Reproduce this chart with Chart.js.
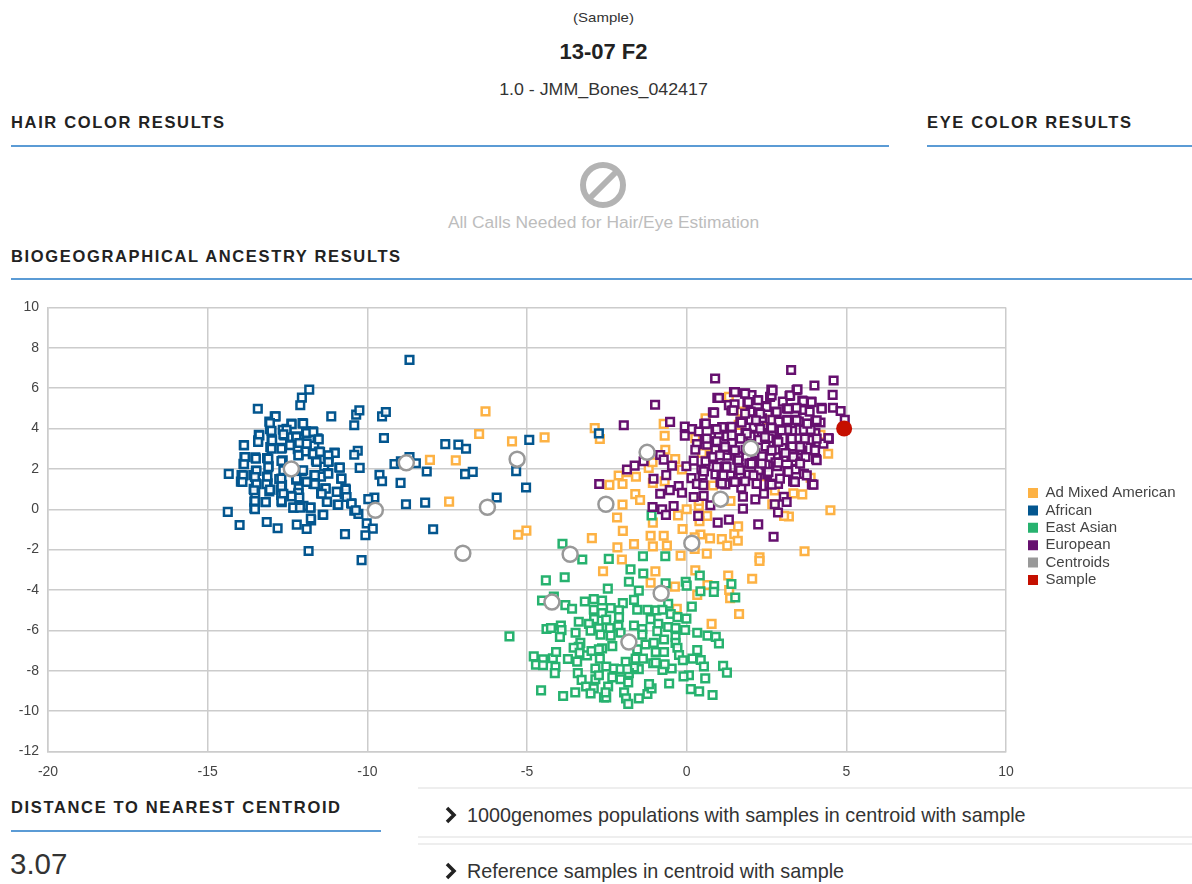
<!DOCTYPE html>
<html><head><meta charset="utf-8">
<script src="https://cdn.jsdelivr.net/npm/chart.js@4"></script>
<style>
html,body{margin:0;padding:0;background:#fff;width:1192px;height:884px;overflow:hidden;font-family:"Liberation Sans",Arial,sans-serif;color:#222}
.t{position:absolute;white-space:nowrap}
.c{left:0;width:1207px;text-align:center}
.h{font-weight:bold;font-size:16.5px;letter-spacing:1.65px;color:#222;line-height:18px}
.r{position:absolute;height:1.5px;background:#5b9bd5}
.p{position:absolute;left:418px;right:0;height:2px;background:#eeeeee}
.link{font-size:19.8px;color:#333;line-height:22px}
#wrap{position:absolute;left:0;top:290px;width:1192px;height:493px}
</style></head><body>
<div class="t c" style="top:9px;font-size:15px;color:#333;transform:scaleY(.9)">(Sample)</div>
<div class="t c" style="top:39px;font-size:22px;font-weight:bold;color:#222">13-07 F2</div>
<div class="t c" style="top:79px;font-size:17.8px;color:#333;transform:scaleY(.92)">1.0 - JMM_Bones_042417</div>
<div class="t h" style="left:11px;top:113px">HAIR COLOR RESULTS</div><div class="r" style="left:11px;top:145px;width:878px"></div>
<div class="t h" style="left:927px;top:113px">EYE COLOR RESULTS</div><div class="r" style="left:927px;top:145px;right:0"></div>
<svg style="position:absolute;left:578px;top:160px" width="50" height="50"><circle cx="25" cy="25" r="20" fill="none" stroke="#b3b3b3" stroke-width="6"/><line x1="12" y1="38" x2="38" y2="12" stroke="#b3b3b3" stroke-width="6"/></svg>
<div class="t c" style="top:212px;font-size:17.4px;color:#bdbdbd">All Calls Needed for Hair/Eye Estimation</div>
<div class="t h" style="left:11px;top:247px">BIOGEOGRAPHICAL ANCESTRY RESULTS</div><div class="r" style="left:11px;top:278px;right:0"></div>
<div id="wrap"><canvas id="chart" width="1192" height="493"></canvas></div>
<div class="t h" style="left:11px;top:798px">DISTANCE TO NEAREST CENTROID</div><div class="r" style="left:11px;top:830px;width:370px"></div>
<div class="t" style="left:10px;top:847px;font-size:29.5px;color:#333">3.07</div>
<div class="p" style="top:787px"></div><div class="p" style="top:836px"></div><div class="p" style="top:843px"></div>
<svg style="position:absolute;left:444px;top:806px" width="16" height="18"><polyline points="3,2 10,9 3,16" fill="none" stroke="#222" stroke-width="3.5"/></svg>
<div class="t link" style="left:467px;top:804px">1000genomes populations with samples in centroid with sample</div>
<svg style="position:absolute;left:444px;top:862px" width="16" height="18"><polyline points="3,2 10,9 3,16" fill="none" stroke="#222" stroke-width="3.5"/></svg>
<div class="t link" style="left:467px;top:860px">Reference samples in centroid with sample</div>
<script>
const seriesNames=["Ad Mixed American","African","East Asian","European","Centroids","Sample"];
const xTicks=[-20,-15,-10,-5,0,5,10];
const yTicks=[-12,-10,-8,-6,-4,-2,0,2,4,6,8,10];
const adMixedAmerican=[[-6.30,4.85],[-6.50,3.73],[-5.47,3.36],[-4.45,3.56],[-8.04,2.45],[-7.23,2.42],[-7.44,.38],[-5.28,-1.26],[-5.02,-1.06],
[-2.88,4.02],[-2.72,3.48],[-.72,4.23],[-.69,3.64],[-.67,2.95],[-.36,2.49],[-1.19,2.05],[-1.07,2.33],[-2.13,1.67],[-1.59,1.61],[-1.87,1.84],[-2.42,1.21],[-2.01,1.25],[-1.06,1.31],[-.69,1.39],[-1.61,.75],[-1.46,.46],[-2.01,.23],[-2.18,-.41],[-1.06,-.66],[-2.00,-1.07],[-2.97,-1.43],[-2.17,-1.89],[-1.65,-1.72],[-1.13,-1.31],[-1.06,-1.84],[-.72,-1.31],[-.62,-1.80],[-2.03,-2.49],[-2.62,-3.07],[-.98,-3.08],[-.19,-2.30],[-.13,-.98],[-.27,-.30],[0,0],[.38,.16],[.64,-.33],[.40,-.59],[.43,-1.25],[.25,-1.39],[.73,-1.44],[1.10,-1.48],[1.49,-1.23],[1.61,-.85],[1.60,-1.56],[1.27,-1.80],[.63,-2.20],[.25,-1.97],[.27,-3.03],[1.30,-3.28],[2.05,-3.44],[2.28,-2.38],[2.28,-2.56],[3.69,-2.08],[4.50,-.05],[3.20,-.36],[3.05,-.33],[3.34,.79],[3.62,.74],[2.76,.93],[2.68,.25],[1.37,.41],[.82,1.18],[.38,.41],[4.43,2.75],[3.88,1.56],[2.41,1.64],[1.71,4.84],[1.32,5.57],[.59,4.51],[.27,3.52],[2.57,4.43],[4.19,3.69],[1.63,4.18],[-.15,1.97],[.48,2.79],[.79,3.11],
[-1.13,-3.64],[-.37,-3.83],[.65,-3.75],[1.33,-4.00],[.33,-4.24],[1.36,-4.41],[1.64,-5.19],[.78,-5.68],[-.31,-4.93]];
const african=[[-8.68,7.40],[-11.82,5.93],[-12.05,5.53],[-12.10,5.15],[-13.43,4.98],[-12.90,4.60],[-13.07,4.34],[-12.38,4.25],[-12.03,4.27],[-11.13,4.60],[-10.35,4.69],[-10.25,4.90],[-9.54,4.60],[-9.42,4.82],[-10.41,4.16],[-13.05,3.97],[-12.53,3.99],[-12.65,3.94],[-11.92,3.86],[-11.71,3.86],[-13.40,3.69],[-12.60,3.66],[-12.23,3.61],[-11.56,3.51],[-13.42,3.41],[-13.00,3.48],[-12.18,3.31],[-9.48,3.53],[-13.87,3.18],[-13.04,3.08],[-12.67,3.05],[-12.42,3.20],[-11.92,3.25],[-11.66,3.15],[-12.18,2.98],[-10.30,2.90],[-10.41,2.70],[-11.03,2.81],[-13.85,2.58],[-13.51,2.57],[-13.14,2.53],[-12.15,2.70],[-11.92,2.86],[-11.71,2.73],[-11.52,2.86],[-11.24,2.65],[-13.88,2.25],[-13.09,2.15],[-12.65,2.42],[-11.61,2.42],[-11.21,2.37],[-13.49,1.92],[-11.35,2.12],[-10.88,2.07],[-10.24,2.05],[-14.34,1.75],[-13.94,1.69],[-13.57,1.69],[-13.14,1.62],[-12.76,1.49],[-12.23,1.46],[-12.05,1.90],[-11.66,1.69],[-11.24,1.79],[-11.45,1.62],[-10.82,1.52],[-9.62,1.71],[-9.54,1.39],[-8.96,1.31],[-8.14,1.87],[-13.96,1.37],[-13.49,1.29],[-13.12,1.29],[-12.67,1.21],[-11.94,1.37],[-11.69,1.26],[-11.32,1.04],[-12.15,1.04],[-13.56,1.01],[-13.07,.88],[-12.72,.96],[-13.51,.76],[-10.95,.86],[-10.69,1.03],[-10.71,.76],[-11.45,.79],[-12.16,.76],[-12.36,.66],[-12.70,.71],[-13.54,.38],[-13.19,.35],[-12.68,.35],[-11.27,.38],[-10.93,.22],[-10.51,.30],[-9.78,.58],[-9.97,.50],[-13.54,.05],[-12.31,.08],[-12.13,.13],[-12.00,.17],[-11.78,.08],[-10.41,-.07],[-10.28,-.23],[-11.40,-.28],[-14.37,-.13],[-14.00,-.78],[-13.15,-.63],[-12.81,-.94],[-12.21,-.76],[-11.76,-.55],[-11.90,-.98],[-10.02,-.70],[-9.83,-.96],[-10.06,-1.29],[-10.70,-1.23],[-11.84,-2.07],[-10.18,-2.52],[-8.79,.25],[-8.19,.33],[-7.94,-.99],[-9.15,2.24],[-8.95,2.37],[-8.68,2.58],[-8.48,2.28],[-7.56,3.23],[-7.15,3.20],[-6.91,3.00],[-6.94,1.74],[-6.70,1.85],[-5.95,.58],[-4.93,3.44],[-5.34,1.89],[-5.03,1.08],[-2.75,3.76],
[-12.87,4.60],[-13.05,4.27],[-12.37,4.21],[-12.01,4.24],[-12.53,3.94],[-13.38,3.66],[-13.00,3.88],[-11.90,3.78],[-11.69,3.83],[-12.63,3.71],[-12.22,3.58],[-13.42,3.33],[-12.98,3.41],[-11.52,3.46],[-12.13,3.28],[-12.42,3.17],[-11.90,3.25],[-13.86,3.17],[-13.00,3.00],[-12.69,3.00],[-12.16,2.67],[-11.69,2.75],[-11.48,2.84],[-11.02,2.79],[-11.22,2.67],[-13.83,2.59],[-13.49,2.51],[-13.10,2.51],[-11.22,2.34],[-13.86,2.23],[-13.10,2.09],[-12.69,2.39],[-11.59,2.34],[-13.47,1.90],[-12.63,1.93],[-12.01,1.93],[-10.86,2.06],[-11.22,1.76],[-13.52,1.60],[-13.13,1.60],[-12.69,1.52],[-11.64,1.68],[-10.81,1.52],[-13.89,1.68],[-13.91,1.35],[-13.47,1.24],[-13.16,1.24],[-12.22,1.52],[-11.90,1.35],[-11.64,1.24],[-12.69,1.14],[-11.30,1.02],[-13.55,.94],[-13.05,.97],[-12.63,.77],[-12.16,.81],[-12.37,.64],[-11.43,.77],[-10.96,.86],[-10.67,.97],[-13.52,.41],[-13.18,.36],[-12.69,.41],[-12.13,.58],[-11.26,.36],[-10.65,.61],[-13.52,.00],[-12.32,.08],[-12.11,.08],[-11.78,.08],[-10.91,.23],[-10.49,.28],[-10.36,-.05],[-11.38,-.27],[-11.77,-.46]];
const eastAsian=[[-3.89,-1.71],[-3.27,-2.49],[-2.44,-2.46],[-1.37,-2.33],[-.67,-2.33],[-1.76,-2.98],[-1.36,-3.18],[-4.41,-3.52],[-3.82,-3.37],[-1.81,-3.59],[-2.47,-3.93],[-1.50,-4.03],[-.66,-3.67],[-.03,-3.59],[0,-3.78],[.41,-3.28],[.43,-4.06],[.86,-3.80],[.85,-4.09],[1.40,-3.70],[1.52,-4.37],[-4.53,-4.52],[-4.16,-4.32],[-3.80,-4.75],[-3.59,-4.93],[-3.19,-4.57],[-2.91,-4.45],[-2.65,-4.52],[-2.00,-4.65],[-1.65,-4.49],[.16,-4.82],[-.58,-4.68],[-5.55,-6.30],[-4.39,-5.93],[-4.25,-5.88],[-3.94,-5.76],[-3.92,-5.99],[-3.97,-6.32],[-3.48,-6.12],[-3.38,-5.57],[-2.91,-4.98],[-2.65,-5.14],[-2.38,-4.90],[-2.12,-5.01],[-1.55,-4.98],[-1.23,-4.98],[-.95,-5.01],[-.76,-4.98],[-.50,-5.19],[-.29,-5.34],[-.01,-5.42],[-2.90,-5.44],[-2.52,-5.47],[-2.12,-5.34],[-1.13,-5.44],[-.89,-5.67],[-3.06,-5.68],[-2.75,-5.90],[-2.41,-5.88],[-2.14,-5.80],[-1.65,-5.76],[-1.39,-5.93],[-.58,-5.83],[-.35,-5.88],[-.05,-5.98],[.33,-6.12],[.65,-6.26],[.91,-6.32],[1.01,-6.65],[-3.01,-6.01],[-2.70,-6.21],[-2.38,-6.26],[-2.07,-6.12],[-1.39,-6.21],[-.92,-6.04],[-.71,-6.45],[-.35,-6.32],[-.35,-6.62],[-3.33,-6.62],[-3.38,-6.81],[-3.54,-6.86],[-2.65,-6.89],[-2.33,-6.78],[-1.29,-6.70],[-1.03,-6.62],[-.29,-6.86],[.33,-6.98],[-4.79,-7.29],[-4.50,-7.43],[-4.19,-7.38],[-4.09,-7.07],[-3.72,-7.42],[-3.35,-7.11],[-3.12,-7.24],[-2.98,-7.02],[-2.72,-7.40],[-4.72,-7.70],[-4.50,-7.73],[-4.11,-7.81],[-3.43,-7.55],[-4.13,-8.12],[-3.41,-8.12],[-3.29,-8.45],[-2.86,-7.89],[-2.52,-7.79],[-2.28,-7.89],[-1.91,-7.56],[-1.60,-7.40],[-1.37,-7.40],[-.97,-7.07],[-.71,-7.07],[-.24,-7.22],[-.12,-7.48],[.18,-7.40],[.44,-7.47],[.54,-7.79],[1.14,-7.76],[1.26,-8.09],[.58,-8.38],[.07,-8.22],[-.10,-8.28],[-.55,-8.63],[-.76,-7.96],[-.47,-7.89],[-.69,-7.68],[-1.05,-7.63],[-1.50,-7.92],[-1.65,-7.84],[-2.07,-7.92],[-1.81,-8.12],[-2.33,-8.33],[-2.07,-8.42],[-1.83,-8.58],[-2.86,-8.42],[-2.75,-8.22],[-3.15,-8.78],[-2.91,-8.87],[-2.46,-8.78],[-4.56,-8.97],[-3.87,-9.25],[-3.49,-9.07],[-3.01,-9.12],[-2.59,-9.32],[-2.52,-9.32],[-1.96,-9.07],[-1.90,-9.37],[-1.83,-9.64],[-1.50,-9.37],[-1.23,-9.15],[-1.10,-8.87],[.13,-8.91],[.39,-9.02],[.81,-9.20],[-1.18,-8.66],[-2.54,-9.07],[-2.75,-6.94],[-1.86,-7.92],[-.97,-7.60],[-1.55,-6.94],[-1.10,-.30]];
const european=[[3.27,6.90],[.89,6.48],[4.60,6.38],[4.00,6.13],[4.57,5.67],[3.44,5.90],[2.65,5.93],[1.48,5.80],[1.82,5.74],[2.03,5.66],[2.61,5.57],[.96,5.52],[3.22,5.61],[-.99,5.18],[1.32,5.16],[1.50,5.20],[1.40,4.89],[1.90,5.30],[2.22,5.41],[2.47,5.11],[3.01,5.33],[3.62,5.38],[3.90,5.33],[.82,4.80],[2.00,4.84],[2.24,4.80],[2.78,4.84],[3.13,5.00],[3.39,5.00],[3.64,4.92],[4.22,5.03],[4.58,5.03],[4.82,4.87],[3.85,4.84],[4.95,4.43],[-1.97,4.16],[-.52,4.33],[.55,4.23],[1.68,4.34],[-.06,4.10],[.17,3.97],[.90,3.97],[1.37,4.07],[2.10,4.07],[2.63,4.07],[3.15,4.43],[3.39,4.43],[3.72,4.23],[4.19,4.30],[4.03,4.34],[-.06,3.64],[.38,3.85],[.56,3.48],[.92,3.36],[1.26,3.61],[1.66,3.52],[1.11,4.07],[2.36,3.77],[2.90,3.93],[3.30,3.89],[3.70,3.52],[4.45,3.49],[.32,3.23],[.64,3.20],[1.11,3.11],[1.42,3.28],[2.26,3.44],[2.83,3.44],[3.25,3.48],[3.67,3.93],[4.03,3.77],[.27,2.95],[.77,2.62],[1.00,2.70],[1.26,2.66],[1.58,2.46],[2.05,2.30],[2.62,2.92],[2.99,3.03],[3.30,3.11],[3.62,2.92],[4.01,2.95],[4.28,3.25],[-.83,2.69],[-1.63,2.16],[-1.87,1.97],[-1.35,2.38],[-.72,2.46],[-.46,2.16],[-.64,1.69],[-.01,2.13],[.22,2.41],[.46,1.97],[.82,2.13],[1.21,2.13],[1.63,2.05],[1.96,2.26],[2.62,2.54],[3.04,2.59],[3.32,2.62],[3.72,2.59],[4.05,2.49],[-1.04,1.51],[-2.74,1.25],[.15,1.54],[.50,1.67],[.90,1.72],[1.09,1.74],[1.37,1.67],[2.26,1.93],[2.47,2.21],[2.78,2.33],[3.15,1.89],[3.41,1.97],[3.67,1.75],[.32,1.26],[1.06,1.34],[1.47,1.39],[1.79,1.43],[2.20,1.56],[2.20,1.26],[2.59,1.26],[2.86,1.26],[3.33,1.38],[3.92,1.23],[-.83,.77],[-.53,.95],[-.25,1.15],[-.15,.82],[.22,.61],[.53,.66],[1.71,1.07],[1.76,.62],[2.15,.49],[2.42,.77],[3.04,.62],[3.13,.36],[2.76,.25],[-1.07,.11],[-.77,0],[-.41,.16],[-.65,-.28],[.74,.20],[.36,-.33],[1.76,.03],[2.86,-.16],[.97,-.66],[1.32,-.51],[2.24,-.75],[2.72,-1.36],[1.63,2.62],[1.84,2.95],[2.15,2.79],[2.36,2.62],[2.47,3.11],[2.78,2.95],[.59,2.38],[1.42,2.95],[1.84,3.77],[2.00,3.61],[2.57,3.52],[3.09,2.79],[3.41,2.38],[2.26,4.34],[2.68,4.43],[2.88,4.34],[2.36,4.51],[2.00,4.43],[1.21,2.95],[.90,2.95],[1.00,3.69],[3.51,3.52],[3.88,3.44],[3.88,3.93],[3.51,4.34],[3.15,3.93],[2.83,2.13],[2.52,1.72],[1.94,1.72],[1.68,1.72],[1.21,1.23],
[1.51,5.81],[1.83,5.73],[2.24,5.40],[1.01,5.51],[1.46,4.90],[.86,4.79],[1.93,5.31],[2.66,5.64],[2.69,5.89],[3.24,5.64],[3.47,5.94],[3.65,5.35],[3.91,5.31],[3.18,4.98],[3.44,5.02],[2.82,4.82],[4.23,4.98],[2.50,5.07],[2.30,4.74],[1.83,4.74],[2.17,4.41],[1.72,4.29],[.60,4.24],[.94,3.96],[1.41,4.08],[2.66,4.03],[2.97,3.91],[3.15,4.41],[3.44,4.41],[3.78,4.24],[4.07,4.41],[2.30,3.99],[1.88,3.75],[1.41,3.66],[.94,3.37],[.63,3.50],[1.69,3.50],[2.45,3.58],[3.29,3.50],[3.70,3.50],[4.07,3.50],[4.44,3.53],[2.87,3.33],[3.55,3.09],[4.02,2.92],[2.66,2.92],[1.20,3.09],[.83,2.59],[1.04,2.67],[1.51,2.92],[2.03,2.26],[2.35,2.26],[3.34,2.59],[2.87,2.31],[4.07,2.43],[1.62,2.43],[1.25,2.10],[.94,2.10],[.54,1.88],[1.15,1.68],[1.67,1.93],[2.09,1.68],[2.56,1.85],[3.18,1.85],[3.55,2.26],[3.76,1.68],[1.10,1.27],[1.51,1.35],[1.83,1.39],[2.19,1.27],[2.66,1.22],[2.92,1.52],[3.39,1.35],[3.97,1.22],[.52,1.19]];
const centroids=[[-12.38,2.00],[-8.78,2.30],[-9.75,-.05],[-7.01,-2.18],[-6.24,.10],[-5.31,2.48],[-3.65,-2.23],[-4.22,-4.60],[-2.53,.25],[-1.24,2.82],[-.80,-4.16],[-1.81,-6.58],[.16,-1.68],[1.06,.50],[2.01,3.02]];
const sample=[[4.93,4.00]];
const toPts=a=>a.map(p=>({x:p[0],y:p[1]}));
const colors=["#fdb244","#03568f","#27b26f","#66106f","#999999","#c50f00"];
function sq(i,data,ord){return {label:seriesNames[i],data:toPts(data),order:ord,pointStyle:'rect',pointRadius:5.4,pointBorderWidth:2.5,
  borderColor:colors[i],backgroundColor:'rgba(255,255,255,0.9)',showLine:false};}
const legendPlace={id:'legendPlace',afterLayout(c){const l=c.legend;l.left=1028-c.options.plugins.legend.labels.padding;l.right=1192;l.top-=8.5;l.bottom-=8.5;}};
new Chart(document.getElementById('chart'),{type:'scatter',plugins:[legendPlace],
 data:{datasets:[sq(0,adMixedAmerican,6),sq(1,african,5),sq(2,eastAsian,4),sq(3,european,3),
  {label:seriesNames[4],data:toPts(centroids),order:2,pointStyle:'circle',pointRadius:7.5,pointBorderWidth:2.5,borderColor:colors[4],backgroundColor:'#fff',showLine:false},
  {label:seriesNames[5],data:toPts(sample),order:1,pointStyle:'circle',pointRadius:8,pointBorderWidth:0,borderColor:colors[5],backgroundColor:colors[5],showLine:false}]},
 options:{responsive:false,animation:false,
  layout:{padding:{top:17,right:26,left:0,bottom:0}},
  plugins:{tooltip:{enabled:false},title:{display:false},
   legend:{position:'right',align:'center',
    labels:{boxWidth:10,boxHeight:10,padding:2.4,color:'#444',font:{family:'"Liberation Sans",Arial',size:15},
     sort:(a,b)=>a.datasetIndex-b.datasetIndex,
     generateLabels:c=>Chart.defaults.plugins.legend.labels.generateLabels(c).map(l=>{l.fillStyle=colors[l.datasetIndex];l.strokeStyle=colors[l.datasetIndex];l.lineWidth=0;return l;})}}},
  scales:{
   x:{type:'linear',min:-20,max:10,afterBuildTicks:s=>{s.ticks=xTicks.map(v=>({value:v}));},
    grid:{color:'#cccccc',lineWidth:1.5,drawTicks:false},border:{color:'#cccccc',width:1.5},
    ticks:{color:'#444',padding:12,maxRotation:0,font:{family:'"Liberation Sans",Arial',size:14}},
    afterFit:s=>{s.height=31.5;}},
   y:{type:'linear',min:-12,max:10,afterBuildTicks:s=>{s.ticks=yTicks.map(v=>({value:v}));},
    grid:{color:'#cccccc',lineWidth:1.5,drawTicks:false},border:{color:'#cccccc',width:1.5},
    ticks:{color:'#444',padding:9,font:{family:'"Liberation Sans",Arial',size:14}},
    afterFit:s=>{s.width=48;}}
  }}});
</script>
</body></html>
